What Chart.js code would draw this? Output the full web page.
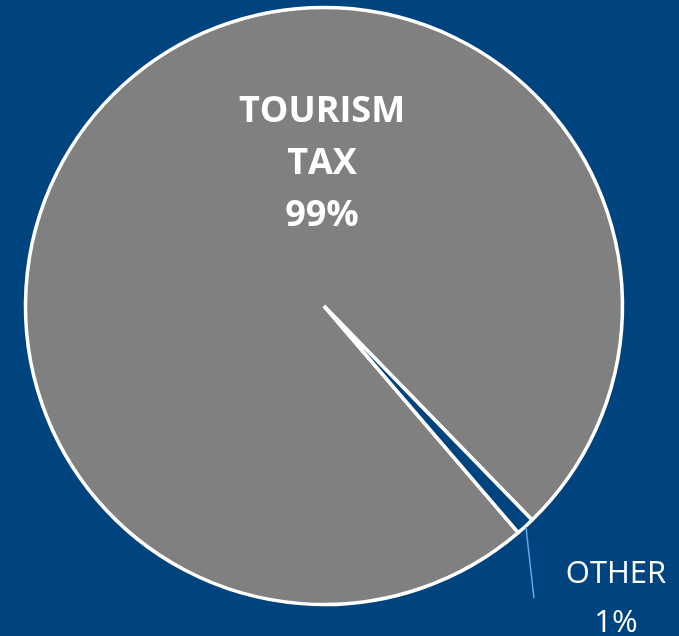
<!DOCTYPE html>
<html>
<head>
<meta charset="utf-8">
<script src="https://cdn.jsdelivr.net/npm/chart.js@4.4.1/dist/chart.umd.min.js"></script>
<style>
    html, body {
        margin: 0;
        padding: 0;
        background: #00447f;
        overflow: hidden;
    }
    #wrap {
        width: 679px;
        height: 636px;
        position: relative;
    }
</style>
</head>
<body>
<div id="wrap">
    <canvas id="chart-1" width="679" height="636"></canvas>
</div>
<script>
const labels = ["TOURISM TAX", "OTHER"];
const shares = [99, 1];
const labelLines = [["TOURISM", "TAX", "99%"], ["OTHER", "1%"]];
const sliceColors = ["#808080", "#00447f"];

// draws the in-slice label and the leader-line label for the thin slice
const sliceLabels = {
    id: "sliceLabels",
    afterDatasetsDraw(chart) {
        const ctx = chart.ctx;
        const arcs = chart.getDatasetMeta(0).data;
        ctx.save();
        ctx.fillStyle = "#ffffff";
        ctx.textAlign = "center";
        ctx.textBaseline = "middle";

        // big slice: bold, three lines above the centre
        const big = arcs[0];
        const r = big.outerRadius;
        ctx.font = "bold 36px 'Open Sans'";
        labelLines[0].forEach((line, i) => {
            ctx.fillText(line, big.x - 2, big.y - 0.65 * r + i * 52);
        });

        // small slice: leader line from its outer edge
        const small = arcs[1];
        const mid = (small.startAngle + small.endAngle) / 2;
        const sx = small.x + Math.cos(mid) * (small.outerRadius + 1);
        const sy = small.y + Math.sin(mid) * (small.outerRadius + 1);
        ctx.strokeStyle = "#5aa9ee";
        ctx.lineWidth = 1.5;
        ctx.beginPath();
        ctx.moveTo(sx, sy);
        ctx.lineTo(sx + 8, sy + 71);
        ctx.stroke();

        ctx.font = "31px 'Open Sans'";
        labelLines[1].forEach((line, i) => {
            ctx.fillText(line, small.x + 292, small.y + 268 + i * 49);
        });
        ctx.restore();
    },
};

const ctx1 = document.getElementById("chart-1").getContext("2d");
const myChart = new Chart(ctx1, {
    type: "pie",
    data: {
        labels: labels,
        datasets: [
            {
                data: shares,
                backgroundColor: sliceColors,
                borderColor: "#ffffff",
                borderWidth: 3.5,
            },
        ],
    },
    options: {
        responsive: false,
        animation: false,
        rotation: 139.4,
        radius: 298.5,
        layout: {
            padding: { left: 0, right: 31, top: 0, bottom: 24 },
        },
        plugins: {
            legend: { display: false },
            tooltip: { enabled: false },
        },
    },
    plugins: [sliceLabels],
});
</script>
</body>
</html>
